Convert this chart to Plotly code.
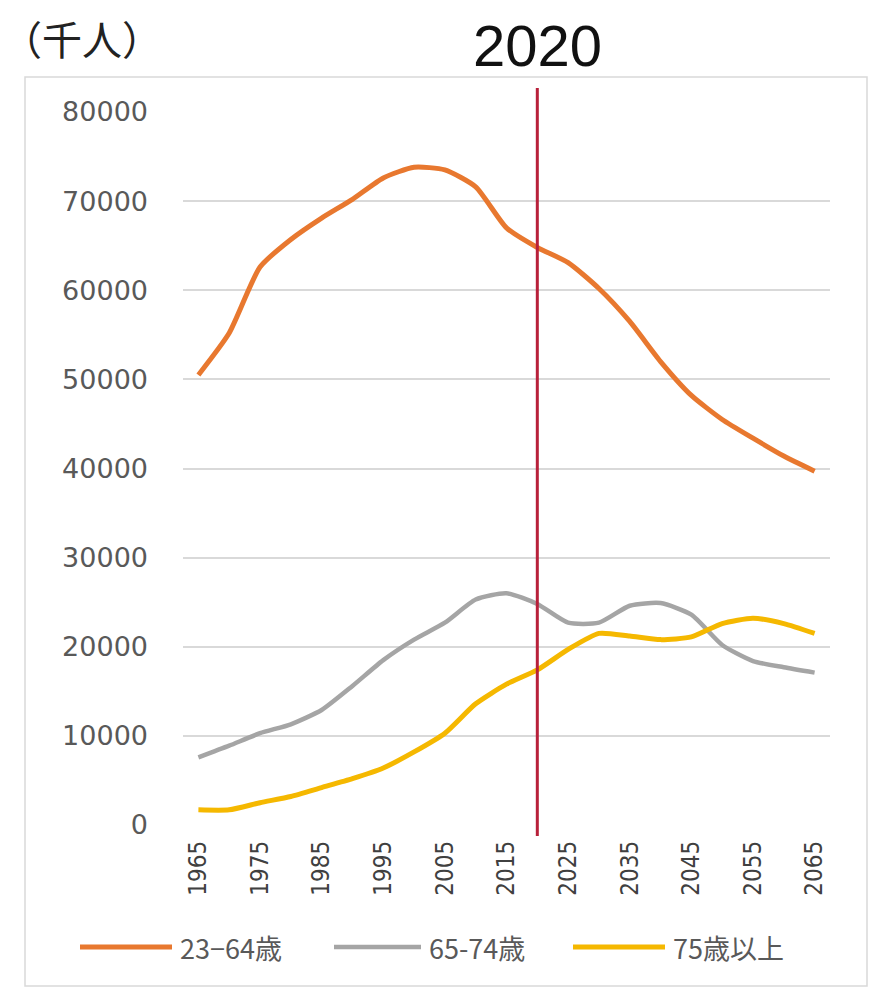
import plotly.graph_objects as go

# Population by age group (thousands), every 5 years
years = list(range(1965, 2070, 5))
age_23_64 = [50500, 55200, 62600, 65700, 68100, 70200, 72600, 73800, 73500, 71600,
             67000, 64800, 63100, 60200, 56500, 52000, 48200, 45500, 43400, 41400, 39700]
age_65_74 = [7600, 8900, 10300, 11300, 12900, 15600, 18500, 20800, 22700, 25300,
             26000, 24800, 22700, 22700, 24600, 24900, 23600, 20200, 18400, 17700, 17100]
age_75_up = [1700, 1700, 2500, 3200, 4200, 5200, 6400, 8200, 10300, 13600,
             15800, 17400, 19700, 21500, 21200, 20800, 21100, 22600, 23200, 22600, 21500]

series_names = ["23−64歳", "65-74歳", "75歳以上"]
series_colors = ["#E8782F", "#A5A5A5", "#F5B800"]
series_widths = [5, 4.5, 5]
marker_year = 2020
x_ticks = list(range(1965, 2070, 10))
y_ticks = list(range(0, 90000, 10000))

W, H = 877, 989
L, R, T, B = 183, 830, 112, 825  # plot area in pixels


def px(x):
    return (x - L) / (R - L)


def py(y):
    return (B - y) / (B - T)


fig = go.Figure()
for name, vals, col, w in zip(series_names, [age_23_64, age_65_74, age_75_up],
                              series_colors, series_widths):
    fig.add_trace(go.Scatter(x=years, y=vals, mode="lines", name=name,
                             line=dict(color=col, width=w, shape="spline", smoothing=0.6),
                             showlegend=False))

shapes = []
# outer chart frame
shapes.append(dict(type="rect", xref="paper", yref="paper",
                   x0=px(25), x1=px(867), y0=py(986), y1=py(77),
                   line=dict(color="#D9D9D9", width=1.5), layer="below"))
# 2020 marker line
shapes.append(dict(type="line", xref="x", yref="paper",
                   x0=marker_year, x1=marker_year, y0=py(836), y1=py(88),
                   line=dict(color="#B8203A", width=3)))

annotations = [
    dict(text="（千人）", xref="paper", yref="paper", x=px(0), y=py(38),
         xanchor="left", yanchor="middle", showarrow=False,
         font=dict(family="Noto Sans CJK JP", size=40, color="#222222")),
    dict(text=str(marker_year), xref="x", yref="paper", x=marker_year, y=py(46),
         xanchor="center", yanchor="middle", showarrow=False,
         font=dict(family="Liberation Sans", size=58, color="#111111")),
]

# legend drawn along the bottom of the frame
leg_y = py(947)
leg_lines = [(80, 172), (334, 421), (573, 665)]
for (x0, x1), name, col, w in zip(leg_lines, series_names, series_colors, series_widths):
    shapes.append(dict(type="line", xref="paper", yref="paper",
                       x0=px(x0), x1=px(x1), y0=leg_y, y1=leg_y,
                       line=dict(color=col, width=w)))
    annotations.append(dict(text=name, xref="paper", yref="paper", x=px(x1 + 6), y=leg_y,
                            xanchor="left", yanchor="middle", showarrow=False,
                            font=dict(family="Noto Sans CJK JP", size=27, color="#595959")))

fig.update_layout(
    width=W, height=H,
    margin=dict(l=L, r=W - R, t=T, b=H - B, pad=0),
    paper_bgcolor="white", plot_bgcolor="white",
    shapes=shapes, annotations=annotations,
    xaxis=dict(range=[1962.5, 2067.5], tickvals=x_ticks, ticktext=[str(v) for v in x_ticks],
               tickangle=-90, showgrid=False, zeroline=False, showline=False,
               ticks="", ticklabelstandoff=10,
               tickfont=dict(family="DejaVu Sans Condensed, DejaVu Sans", size=24, color="#404040")),
    yaxis=dict(range=[0, 80000], tickvals=y_ticks, ticktext=[str(v) for v in y_ticks],
               showgrid=True, gridcolor="#D9D9D9", gridwidth=1.5, zeroline=False,
               showline=False, ticks="", ticklabelstandoff=34,
               tickfont=dict(family="DejaVu Sans", size=27, color="#595959")),
)

fig.write_html("out.html")
